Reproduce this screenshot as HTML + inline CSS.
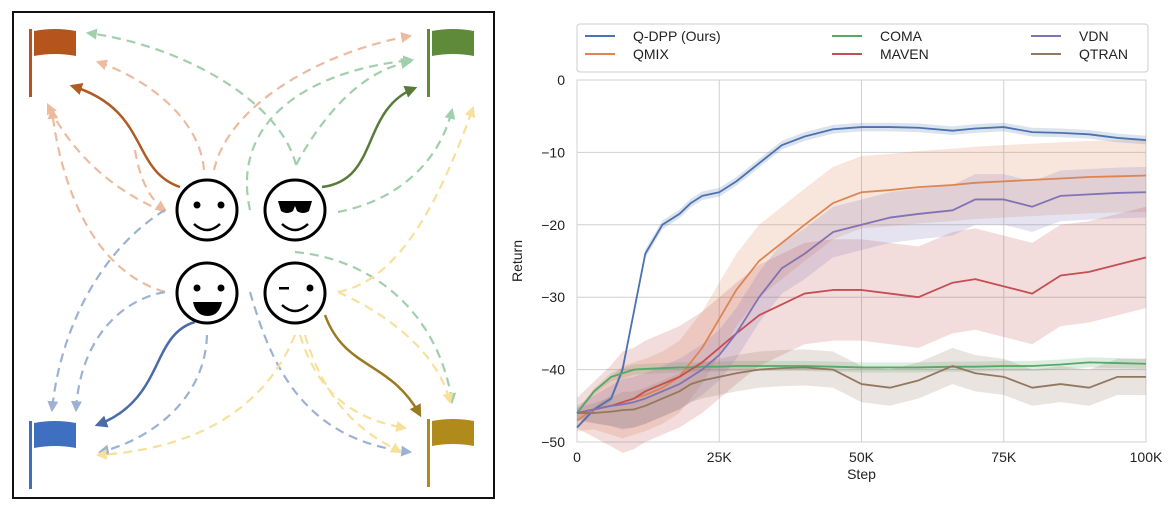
<!DOCTYPE html>
<html><head><meta charset="utf-8"><style>
body{margin:0;background:#fff;width:1176px;height:512px;overflow:hidden;font-family:"Liberation Sans",sans-serif}
svg{position:absolute;left:0;top:0}
</style></head><body>
<svg width="1176" height="512">
<g id="left">
<rect x="13" y="12" width="481" height="486" fill="#fff" stroke="#111" stroke-width="2"/>
<defs>
<marker id="ah" viewBox="0 0 10 10" refX="8" refY="5" markerWidth="5" markerHeight="5" orient="auto-start-reverse"><path d="M0,0L10,5L0,10z" fill="context-stroke"/></marker>
</defs>
<g fill="none" stroke-width="2.2" stroke-dasharray="9,6" opacity="0.55" marker-end="url(#ah)">
<path d="M204,170 C200,120 150,80 98,62" stroke="#dd8452"/>
<path d="M214,170 C230,100 330,50 410,36" stroke="#dd8452"/>
<path d="M165,212 C110,190 70,150 48,105" stroke="#dd8452"/>
<path d="M165,292 C90,270 60,180 52,110" stroke="#dd8452"/>
<path d="M135,150 C140,180 150,200 165,210" stroke="#dd8452"/>
<path d="M296,165 C280,100 180,45 88,33" stroke="#55a868"/>
<path d="M296,165 C320,120 360,70 410,62" stroke="#55a868"/>
<path d="M250,210 C230,120 310,70 412,60" stroke="#55a868"/>
<path d="M338,212 C400,200 440,160 452,110" stroke="#55a868"/>
<path d="M295,252 C380,260 440,320 452,402" stroke="#55a868"/>
<path d="M165,210 C100,250 60,330 52,410" stroke="#4c72b0"/>
<path d="M165,292 C120,300 80,340 76,410" stroke="#4c72b0"/>
<path d="M207,335 C205,400 150,440 100,452" stroke="#4c72b0"/>
<path d="M250,292 C270,360 300,440 410,452" stroke="#4c72b0"/>
<path d="M338,292 C400,280 440,200 473,108" stroke="#f0c74a"/>
<path d="M338,292 C400,320 440,360 450,402" stroke="#f0c74a"/>
<path d="M295,335 C260,420 180,450 98,455" stroke="#f0c74a"/>
<path d="M300,335 C320,400 360,420 405,428" stroke="#f0c74a"/>
<path d="M305,335 C330,420 380,440 400,452" stroke="#f0c74a"/>
</g>
<g fill="none" stroke-width="2.5" marker-end="url(#ah)">
<path d="M180,187 C130,170 150,110 72,86" stroke="#b05a24"/>
<path d="M322,187 C380,180 360,110 415,88" stroke="#5a7a3a"/>
<path d="M195,322 C150,335 165,400 97,425" stroke="#4a6aa8"/>
<path d="M325,315 C345,370 390,360 420,415" stroke="#9a7a20"/>
</g>
<g><rect x="29" y="29" width="3" height="68" fill="#b5541c"/><path d="M34,31 Q55,27 76,31 L76,56 Q55,52 34,56z" fill="#b5541c"/></g>
<g><rect x="427" y="29" width="3" height="68" fill="#5f8a3a"/><path d="M432,31 Q453,27 474,31 L474,56 Q453,52 432,56z" fill="#5f8a3a"/></g>
<g><rect x="29" y="421" width="3" height="68" fill="#3f6fc0"/><path d="M34,423 Q55,419 76,423 L76,448 Q55,444 34,448z" fill="#3f6fc0"/></g>
<g><rect x="427" y="419" width="3" height="68" fill="#b08a1a"/><path d="M432,421 Q453,417 474,421 L474,446 Q453,442 432,446z" fill="#b08a1a"/></g>
<g stroke="#000" stroke-width="3" fill="#fff">
<circle cx="207" cy="210" r="30"/>
<circle cx="295" cy="210" r="30"/>
<circle cx="207" cy="293" r="30"/>
<circle cx="295" cy="293" r="30"/>
</g>
<g fill="#000"><circle cx="197" cy="205" r="3.5"/><circle cx="221" cy="205" r="3.5"/>
<path d="M278,201 h34 l-3,10 q-6,4 -12,0 l-2,-5 l-2,5 q-6,4 -12,0z"/>
<circle cx="197" cy="288" r="3.5"/><circle cx="221" cy="288" r="3.5"/>
<path d="M193,302 h29 q-3,14 -14.5,14 q-11.5,0 -14.5,-14z"/>
<rect x="279" y="287" width="10" height="2.5"/><circle cx="310" cy="288" r="3.5"/></g>
<g fill="none" stroke="#000" stroke-width="2.5"><path d="M194,224 q13,12 26,0"/><path d="M282,224 q13,12 26,0"/><path d="M282,305 q13,12 26,0"/></g>
</g>
<g id="chart"></g>
</svg>
<script>
const steps=[0,3,6,8,10,12,15,18,20,22,25,28,32,36,40,45,50,55,60,66,70,75,80,85,90,95,100];
const qdpp=[-48,-45.5,-44,-40,-32,-24,-20,-18.5,-17,-16,-15.5,-14,-11.5,-9,-7.8,-6.8,-6.5,-6.5,-6.6,-7,-6.7,-6.5,-7.2,-7.3,-7.5,-8,-8.3];
const qmix=[-47,-45.5,-45,-44.5,-44,-43.5,-42.5,-41,-39,-37,-33,-29,-25,-22.5,-20,-17,-15.5,-15.2,-14.8,-14.5,-14.2,-14,-13.8,-13.6,-13.4,-13.3,-13.2];
const vdn=[-46,-45.5,-45,-44.8,-44.5,-44,-43,-42,-41,-40,-38,-35,-30,-26,-24,-21,-20,-19,-18.5,-18,-16.5,-16.5,-17.5,-16,-15.8,-15.6,-15.5];
const maven=[-46,-45.5,-45,-44.5,-44,-43,-42,-41,-40,-39,-37,-35,-32.5,-31,-29.5,-29,-29,-29.5,-30,-28,-27.5,-28.5,-29.5,-27,-26.5,-25.5,-24.5];
const coma=[-46,-43,-41,-40.5,-40,-39.9,-39.8,-39.7,-39.7,-39.6,-39.6,-39.5,-39.5,-39.5,-39.5,-39.6,-39.7,-39.7,-39.7,-39.6,-39.6,-39.5,-39.5,-39.3,-39,-39.1,-39.2];
const qtran=[-46,-46,-45.8,-45.6,-45.5,-45,-44,-43,-42,-41.5,-41,-40.5,-40,-39.8,-39.7,-40,-42,-42.5,-41.5,-39.5,-40.5,-41,-42.5,-42,-42.5,-41,-41];
const seriesNames=["Q-DPP (Ours)","QMIX","COMA","MAVEN","VDN","QTRAN"];
const seriesData=[qdpp,qmix,coma,maven,vdn,qtran];
const seriesColors=["#4c72b0","#dd8452","#55a868","#c44e52","#8172b3","#937860"];
const bandWidth=[0.6,5,0.7,7,3.5,2.5];
const yTicks=[0,-10,-20,-30,-40,-50];
const xTicks=[0,25,50,75,100];
const xLabels=["0","25K","50K","75K","100K"];
const X0=577,X1=1146,Y0=80,Y1=442;
const sx=v=>X0+(v/100)*(X1-X0);
const sy=v=>Y0+(0-v)/50*(Y1-Y0);
const NS="http://www.w3.org/2000/svg";
const g=document.getElementById('chart');
function mk(t,a,p){const e=document.createElementNS(NS,t);for(const k in a)e.setAttribute(k,a[k]);(p||g).appendChild(e);return e;}
const bg=mk('rect',{x:X0,y:Y0,width:X1-X0,height:Y1-Y0,fill:'#fff',stroke:'#ccc','stroke-width':1});


yTicks.forEach(t=>{
 const l=mk('line',{x1:X0,x2:X1,y1:sy(t),y2:sy(t),stroke:'#d0d0d0','stroke-width':1});
 
 
 const tx=mk('text',{x:X0-12,y:sy(t)+5,'text-anchor':'end','font-size':14,fill:'#222'});
 tx.textContent=t===0?'0':'\u2212'+Math.abs(t);
 
 
});
xTicks.forEach((t,i)=>{
 const l=mk('line',{x1:sx(t),x2:sx(t),y1:Y0,y2:Y1,stroke:'#d0d0d0','stroke-width':1});
 
 
 const tx=mk('text',{x:sx(t),y:Y1+20,'text-anchor':'middle','font-size':14,fill:'#222'});
 tx.textContent=xLabels[i];
 
 
});
const xt=mk('text',{x:(X0+X1)/2,y:Y1+37,'text-anchor':'middle','font-size':14,fill:'#222'});xt.textContent='Step';


const yt=mk('text',{x:0,y:0,'text-anchor':'middle','font-size':14,fill:'#222',transform:`translate(522,${(Y0+Y1)/2}) rotate(-90)`});yt.textContent='Return';


seriesData.forEach((d,si)=>{
 const w=bandWidth[si];
 let up=steps.map((s,i)=>sx(s)+','+sy(Math.min(0,d[i]+w*Math.min(1,i/4+0.3)))).join(' ');
 let lo=steps.map((s,i)=>sx(s)+','+sy(d[i]-w*Math.min(1,i/4+0.3))).reverse().join(' ');
 const b=mk('polygon',{points:up+' '+lo,fill:seriesColors[si],opacity:0.2});
 
 
});
seriesData.forEach((d,si)=>{
 const p=mk('polyline',{points:steps.map((s,i)=>sx(s)+','+sy(d[i])).join(' '),fill:'none',stroke:seriesColors[si],'stroke-width':1.8,'stroke-linejoin':'round'});
 
 
});
const lg=mk('g',{});


mk('rect',{x:X0,y:24,width:X1-X0+2,height:48,fill:'#fff',stroke:'#ccc',rx:3},lg);
const legOrder=[0,2,4,1,3,5];
const colX=[585,832,1031];
legOrder.forEach((si,k)=>{
 const c=k%3,r=Math.floor(k/3);
 const x=colX[c],y=36+r*18;
 mk('line',{x1:x,x2:x+30,y1:y,y2:y,stroke:seriesColors[si],'stroke-width':2},lg);
 const t=mk('text',{x:x+48,y:y+5,'font-size':14,fill:'#222'},lg);
 t.textContent=seriesNames[si];
 
 
});
</script>
</body></html>
